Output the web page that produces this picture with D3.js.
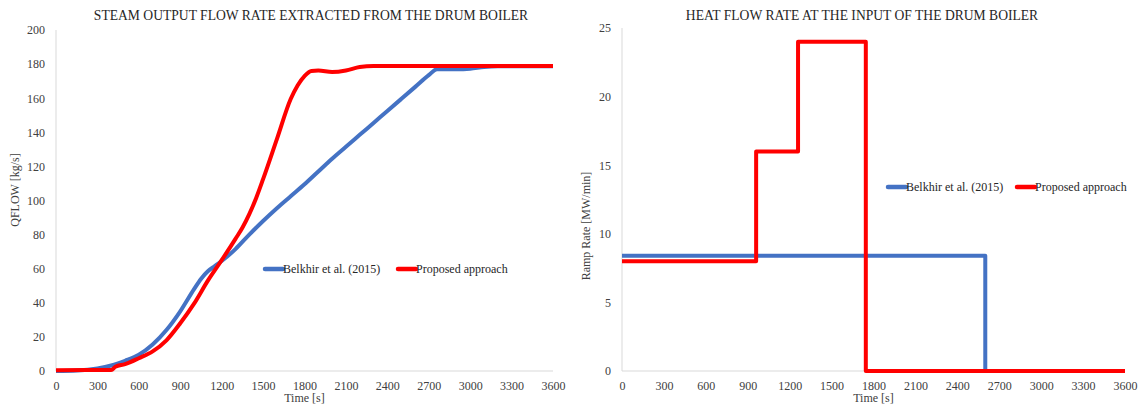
<!DOCTYPE html>
<html><head><meta charset="utf-8">
<script src="https://cdn.jsdelivr.net/npm/d3@7"></script>
<style>body{margin:0;background:#fff}svg{display:block}svg text{font-family:"Liberation Serif","Times New Roman",serif !important}</style>
</head><body><svg id="c" width="1144" height="407"></svg>
<script>
const xTicks = [0,300,600,900,1200,1500,1800,2100,2400,2700,3000,3300,3600];
const leftYTicks = [0,20,40,60,80,100,120,140,160,180,200];
const rightYTicks = [0,5,10,15,20,25];
const seriesNames = ["Belkhir et al. (2015)", "Proposed approach"];
const seriesColors = ["#4472C4", "#FF0000"];

// Left chart: QFLOW [kg/s]
const blueT = [0,150,300,400,500,600,700,800,900,1000,1050,1100,1150,1200,1300,1400,1500,1600,1700,1800,1900,2000,2100,2200,2300,2400,2500,2600,2700,2760,2900,3000,3100,3200,3600];
const blueQ = [0,0.3,1.5,3.2,6,9.5,15.5,24,35,48,54,58.5,61.5,64.5,71.5,80,88,95.5,102.5,109.5,117,124.5,131.5,138.5,145.5,152.5,159.5,166.5,173.5,177,177,177.3,178.3,178.7,178.7];
const redT = [0,400,430,500,600,700,800,900,1000,1100,1200,1300,1350,1400,1450,1500,1600,1700,1750,1800,1850,1900,2000,2100,2200,2300,3600];
const redQ = [0.5,0.6,2.5,4,7.5,11.5,18,28,39.5,53,65,77.5,84,92,101.5,112.5,136,159.5,167.5,173,176,176.2,175.3,176.2,178.3,178.9,178.9];

// Right chart: ramp rate [MW/min] (step)
const blueRT = [0,2600,3600];
const blueRV = [8.4,0,0];
const redRT = [0,960,1260,1745,3600];
const redRV = [8,16,24,0,0];

const svg = d3.select("#c");
const SERIF = "Liberation Serif";

function panel(o){
  const x = d3.scaleLinear().domain([0,3600]).range([o.x0,o.x1]);
  const y = d3.scaleLinear().domain([0,o.ymax]).range([o.y0,o.y1]);
  const g = svg.append("g");
  g.append("line").attr("x1",o.x0).attr("x2",o.x0).attr("y1",o.y0).attr("y2",o.y1).attr("stroke","#d9d9d9").attr("stroke-width",1);
  g.append("line").attr("x1",o.x0).attr("x2",o.x1).attr("y1",o.y0).attr("y2",o.y0).attr("stroke","#d9d9d9").attr("stroke-width",1);
  const xa = g.append("g").attr("transform",`translate(0,${o.y0})`)
    .call(d3.axisBottom(x).tickValues(xTicks).tickSize(0).tickPadding(10).tickFormat(d3.format("d")));
  xa.attr("font-family",SERIF).attr("font-size",12);
  xa.select(".domain").remove();
  xa.selectAll("text").attr("fill","#404040");
  const ya = g.append("g").attr("transform",`translate(${o.x0},0)`)
    .call(d3.axisLeft(y).tickValues(o.yTicks).tickSize(0).tickPadding(o.ypad).tickFormat(d3.format("d")));
  ya.attr("font-family",SERIF).attr("font-size",12);
  ya.select(".domain").remove();
  ya.selectAll("text").attr("fill","#404040");
  g.append("text").attr("x",o.tx).attr("y",20).attr("text-anchor","middle").attr("font-size",o.tfs).attr("fill","#262626").text(o.title);
  g.append("text").attr("x",(o.x0+o.x1)/2).attr("y",402).attr("text-anchor","middle").attr("font-size",12).attr("fill","#404040").text("Time [s]");
  g.append("text").attr("transform",`translate(${o.ytx},${o.yty}) rotate(-90)`).attr("text-anchor","middle").attr("font-size",12).attr("fill","#404040").text(o.ytitle);
  o.series.forEach((s,i)=>{
    const line = d3.line().x(d=>x(d[0])).y(d=>y(d[1])).curve(o.curve);
    g.append("path").datum(d3.zip(s.t,s.v)).attr("d",line).attr("fill","none")
      .attr("stroke",seriesColors[i]).attr("stroke-width",4).attr("stroke-linejoin","round");
  });
  o.legend.forEach((lx,i)=>{
    g.append("line").attr("x1",lx).attr("x2",lx+18).attr("y1",o.ly).attr("y2",o.ly)
      .attr("stroke",seriesColors[i]).attr("stroke-width",4.5).attr("stroke-linecap","round");
    g.append("text").attr("x",lx+18).attr("y",o.ly+4).attr("font-size",12).attr("fill","#262626").text(seriesNames[i]);
  });
}

panel({x0:56,x1:553,y0:371,y1:30,ymax:200,yTicks:leftYTicks,ypad:11,
  title:"STEAM OUTPUT FLOW RATE EXTRACTED FROM THE DRUM BOILER",tx:311,tfs:13.6,
  ytitle:"QFLOW [kg/s]",ytx:19,yty:190,curve:d3.curveMonotoneX,
  series:[{t:blueT,v:blueQ},{t:redT,v:redQ}],legend:[265,398],ly:269});

panel({x0:622,x1:1125,y0:371,y1:28,ymax:25,yTicks:rightYTicks,ypad:11,
  title:"HEAT FLOW RATE AT THE INPUT OF THE DRUM BOILER",tx:862,tfs:13.6,
  ytitle:"Ramp Rate [MW/min]",ytx:590,yty:226,curve:d3.curveStepAfter,
  series:[{t:blueRT,v:blueRV},{t:redRT,v:redRV}],legend:[888,1017],ly:187});
</script></body></html>
